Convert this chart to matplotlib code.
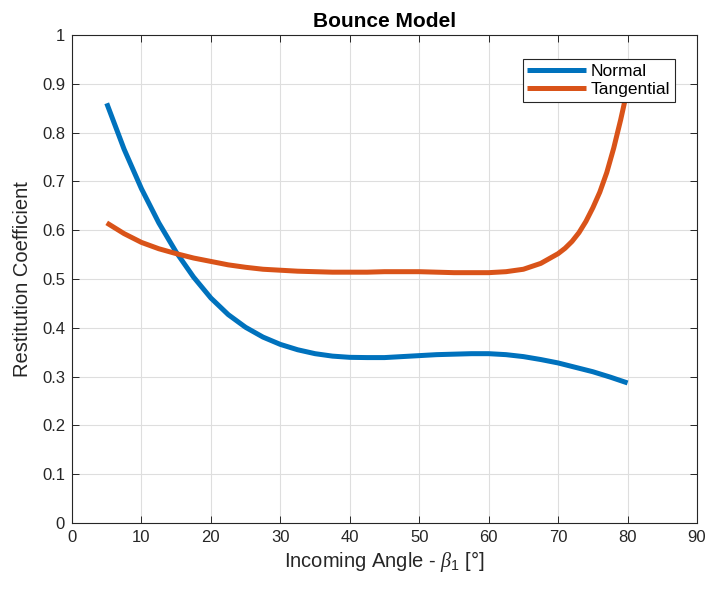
import matplotlib.pyplot as plt
import numpy as np

plt.rcParams['font.family'] = ['Liberation Sans', 'DejaVu Sans']
plt.rcParams['mathtext.fontset'] = 'custom'
plt.rcParams['mathtext.it'] = 'Liberation Serif:italic'
plt.rcParams['mathtext.rm'] = 'Liberation Sans'

# incoming angle samples (deg)
angle_n = [5, 7.5, 10, 12.5, 15, 17.5, 20, 22.5, 25, 27.5, 30, 32.5, 35, 37.5, 40,
           42.5, 45, 47.5, 50, 52.5, 55, 57.5, 60, 62.5, 65, 67.5, 70, 72.5, 75, 77.5, 80]
normal = [0.860, 0.766, 0.685, 0.615, 0.555, 0.504, 0.461, 0.427, 0.401, 0.381, 0.366,
          0.355, 0.347, 0.342, 0.3395, 0.339, 0.339, 0.341, 0.343, 0.345, 0.346, 0.347,
          0.347, 0.345, 0.341, 0.335, 0.328, 0.319, 0.310, 0.299, 0.287]

angle_t = [5, 7.5, 10, 12.5, 15, 17.5, 20, 22.5, 25, 27.5, 30, 32.5, 35, 37.5, 40,
           42.5, 45, 47.5, 50, 52.5, 55, 57.5, 60, 62.5, 65, 67.5, 70, 71, 72, 73, 74,
           75, 76, 77, 78, 79, 80]
tangential = [0.615, 0.593, 0.575, 0.562, 0.552, 0.543, 0.536, 0.529, 0.524, 0.520,
              0.518, 0.516, 0.515, 0.514, 0.514, 0.514, 0.515, 0.515, 0.515, 0.514,
              0.513, 0.513, 0.513, 0.515, 0.520, 0.532, 0.552, 0.563, 0.577, 0.595,
              0.618, 0.646, 0.678, 0.718, 0.768, 0.826, 0.890]

fig = plt.figure(figsize=(7.08, 5.93), dpi=100)
ax = fig.add_axes([0.1017, 0.118, 0.8828, 0.823])

ax.plot(angle_n, normal, color='#0072BD', linewidth=3.6, label='Normal',
        solid_capstyle='butt', solid_joinstyle='round')
ax.plot(angle_t, tangential, color='#D95319', linewidth=3.6, label='Tangential',
        solid_capstyle='butt', solid_joinstyle='round')

ax.set_xlim(0, 90)
ax.set_ylim(0, 1)
ax.set_xticks(np.arange(0, 91, 10))
ax.set_yticks(np.arange(0, 1.01, 0.1))
ax.set_yticklabels(['0', '0.1', '0.2', '0.3', '0.4', '0.5', '0.6', '0.7', '0.8', '0.9', '1'])
ax.grid(True, color='#dedede', linewidth=0.8)
ax.set_axisbelow(True)
ax.tick_params(direction='in', top=True, right=True, length=5, width=0.7,
               labelsize=12, colors='#262626', pad=5)
for s in ax.spines.values():
    s.set_color('#262626')
    s.set_linewidth(0.8)

ax.set_title('Bounce Model', fontsize=15, fontweight='bold', color='black', pad=6)
ax.set_xlabel(r'Incoming Angle - $\beta_1$ [°]', fontsize=14.5, color='#262626', labelpad=3)
ax.set_ylabel('Restitution Coefficient', fontsize=14.5, color='#262626', labelpad=7)

leg = ax.legend(loc='upper right', fontsize=12.5, handlelength=3.35, handletextpad=0.3,
                borderpad=0.25, labelspacing=0.2, fancybox=False, framealpha=1,
                edgecolor='#262626', bbox_to_anchor=(0.978, 0.968))
leg.get_frame().set_linewidth(0.8)

fig.savefig('out.png', dpi=100)
